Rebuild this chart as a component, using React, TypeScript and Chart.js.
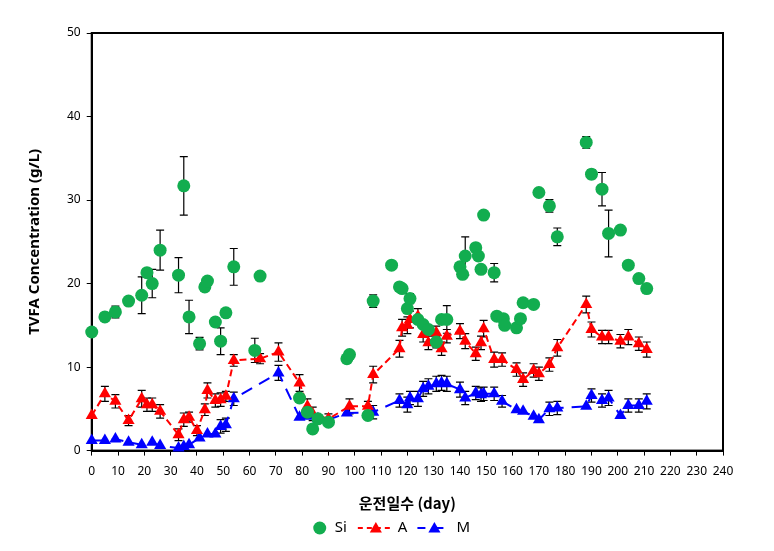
import { useEffect, useRef } from 'react';
import { Chart, registerables } from 'chart.js';

Chart.register(...registerables);

const FONT = '"Noto Sans", "Noto Sans CJK KR", sans-serif';
const KFONT = '"Noto Sans CJK KR", "Noto Sans", sans-serif';
const GREEN = '#12ad4f';
const RED = '#ff0000';
const BLUE = '#0000ff';

// Y / X axis ticks
const xTickMin = 0;
const xTickMax = 240;
const xTickStep = 10;
const yTickMin = 0;
const yTickMax = 50;
const yTickStep = 10;

// Series Si (circles, no line)
const siDays = [0, 5, 9, 14, 19, 21, 23, 26, 33, 35, 37, 41, 43, 44, 47, 49, 51, 54, 62, 64, 79, 82, 84, 86, 90, 97, 98, 105, 107, 114, 117, 118, 120, 121, 124, 126, 128, 131, 133, 135, 140, 141, 142, 146, 147, 148, 149, 153, 154, 156.5, 157, 161.5, 163, 164, 168, 170, 174, 177, 188, 190, 194, 196.5, 201, 204, 208, 211];
const siValues = [14.2, 16.0, 16.6, 17.9, 18.6, 21.3, 20.0, 24.0, 21.0, 31.7, 16.0, 12.8, 19.6, 20.3, 15.4, 13.1, 16.5, 22.0, 12.0, 20.9, 6.3, 4.6, 2.6, 3.8, 3.4, 11.0, 11.5, 4.2, 17.9, 22.2, 19.6, 19.4, 17.0, 18.2, 15.7, 15.1, 14.5, 13.0, 15.7, 15.7, 22.0, 21.1, 23.3, 24.3, 23.3, 21.7, 28.2, 21.3, 16.1, 15.8, 15.0, 14.7, 15.8, 17.7, 17.5, 30.9, 29.3, 25.6, 36.9, 33.1, 31.3, 26.0, 26.4, 22.2, 20.6, 19.4];
const siErr = [0, 0, 0.7, 0, 2.2, 0, 1.7, 2.4, 2.1, 3.5, 2.0, 0.75, 0.5, 0, 0.5, 1.6, 0, 2.2, 1.45, 0, 0, 0, 0, 0, 0, 0, 0, 0, 0.75, 0, 0, 0, 0, 0.6, 0, 0, 0, 0.7, 0, 1.65, 0, 0, 2.3, 0, 0, 0, 0, 1.1, 0, 0, 0, 0, 0, 0, 0, 0.3, 0.75, 1.05, 0.7, 0.55, 2.0, 2.8, 0, 0, 0, 0];

// Series A (red triangles, short dashes)
const aDays = [0, 5, 9, 14, 19, 21, 23, 26, 33, 35, 37, 40, 43, 44, 47, 49, 51, 54, 64, 71, 79, 82, 84, 90, 98, 105, 107, 117, 118, 120, 121, 124, 126, 128, 131, 133, 135, 140, 142, 146, 148, 149, 153, 156, 161.5, 164, 168, 170, 174, 177, 188, 190, 194, 196.5, 201, 204, 208, 211];
const aValues = [4.2, 6.8, 5.9, 3.6, 6.2, 5.5, 5.5, 4.7, 1.9, 3.7, 4.0, 2.4, 4.9, 7.2, 6.0, 6.1, 6.5, 10.8, 11.0, 11.8, 8.1, 5.3, 4.4, 3.8, 5.3, 5.3, 9.1, 12.2, 14.7, 15.0, 15.7, 16.1, 13.9, 12.9, 14.1, 12.2, 13.7, 14.3, 13.1, 11.6, 12.9, 14.6, 10.9, 10.9, 9.7, 8.5, 9.6, 9.2, 10.3, 12.3, 17.5, 14.5, 13.6, 13.6, 13.1, 13.6, 12.8, 12.1];
const aErr = [0, 0.9, 0.8, 0.6, 1.0, 0.8, 0.8, 0.8, 0.7, 0.8, 0.6, 0.6, 0.7, 0.9, 0.8, 0.8, 0.6, 0.7, 0.6, 1.1, 1.0, 0.9, 0.8, 0.6, 0.9, 0.6, 1.0, 1.0, 1.0, 1.0, 1.0, 0.9, 0.9, 0.8, 0.8, 0.8, 0.8, 0.9, 0.9, 0.8, 0.8, 1.0, 0.9, 0.8, 0.8, 0.8, 0.8, 0.8, 0.8, 1.0, 1.0, 0.9, 0.8, 0.8, 0.8, 0.9, 0.8, 0.9];

// Series M (blue triangles, long dashes)
const mDays = [0, 5, 9, 14, 19, 23, 26, 33, 35, 37, 41, 44, 47, 49, 51, 54, 71, 79, 82, 86, 90, 97, 107, 117, 120, 121, 124, 126, 128, 131, 133, 135, 140, 142, 146, 148, 149, 153, 156, 161.5, 164, 168, 170, 174, 177, 188, 190, 194, 196.5, 201, 204, 208, 211];
const mValues = [1.2, 1.2, 1.4, 1.0, 0.7, 1.0, 0.6, 0.3, 0.5, 0.7, 1.5, 2.0, 2.0, 2.9, 3.1, 6.2, 9.3, 4.0, 4.1, 3.8, 3.7, 4.5, 4.6, 6.0, 5.5, 6.3, 6.2, 7.4, 7.7, 8.0, 8.1, 8.0, 7.3, 6.3, 6.9, 6.7, 6.8, 6.8, 5.9, 4.9, 4.7, 4.1, 3.7, 5.0, 5.1, 5.3, 6.6, 6.0, 6.3, 4.2, 5.4, 5.4, 5.9];
const mErr = [0, 0, 0, 0, 0, 0, 0, 0, 0, 0, 0, 0, 0, 0.8, 0.8, 0.8, 0.9, 0, 0, 0, 0, 0, 0.8, 0.8, 0.9, 0.8, 0.9, 0.9, 0.9, 0.9, 0.9, 0.9, 0.9, 0.8, 0.8, 0.8, 0.8, 0.8, 0.7, 0, 0, 0, 0, 0.8, 0.8, 0, 0.8, 0.8, 0.9, 0, 0.8, 0.8, 0.9];

const seriesLabels = ['Si', 'A', 'M'];
const yTitle = 'TVFA Concentration (g/L)';
const xTitle = '운전일수 (day)';

const ERRORS = [siErr, aErr, mErr];

const toPoints = (xs: number[], ys: number[]) => xs.map((x, i) => ({ x, y: ys[i] }));

function drawTri(ctx: CanvasRenderingContext2D, x: number, y: number, r: number) {
  ctx.beginPath();
  ctx.moveTo(x, y - r);
  ctx.lineTo(x + r * 0.866, y + r * 0.5);
  ctx.lineTo(x - r * 0.866, y + r * 0.5);
  ctx.closePath();
  ctx.fill();
}

const framePlugin = {
  id: 'frame',
  beforeDatasetsDraw(chart: any) {
    const { ctx, chartArea: a } = chart;
    ctx.save();
    ctx.strokeStyle = '#000';
    ctx.lineWidth = 2;
    ctx.strokeRect(a.left, a.top, a.right - a.left, a.bottom - a.top);
    ctx.restore();
  },
};

const errorBarPlugin = {
  id: 'errorBars',
  beforeDatasetsDraw(chart: any) {
    const { ctx } = chart;
    const ys = chart.scales.y;
    ctx.save();
    ctx.strokeStyle = '#000';
    ctx.lineWidth = 1.2;
    chart.data.datasets.forEach((ds: any, di: number) => {
      const errs = ERRORS[di];
      const meta = chart.getDatasetMeta(di);
      meta.data.forEach((pt: any, i: number) => {
        const e = errs[i];
        if (!e) return;
        const v = ds.data[i].y;
        const x = pt.x;
        const t = ys.getPixelForValue(v + e);
        const b = ys.getPixelForValue(v - e);
        ctx.beginPath();
        ctx.moveTo(x, t);
        ctx.lineTo(x, b);
        ctx.moveTo(x - 4, t);
        ctx.lineTo(x + 4, t);
        ctx.moveTo(x - 4, b);
        ctx.lineTo(x + 4, b);
        ctx.stroke();
      });
    });
    ctx.restore();
  },
};

const legendPlugin = {
  id: 'customLegend',
  afterDraw(chart: any) {
    const { ctx, chartArea: a } = chart;
    const yc = chart.height - 23;
    let x = a.left + 222;
    ctx.save();
    ctx.font = `15px ${FONT}`;
    ctx.textBaseline = 'middle';
    // Si
    ctx.fillStyle = GREEN;
    ctx.beginPath();
    ctx.arc(x + 6, yc, 6.5, 0, Math.PI * 2);
    ctx.fill();
    x += 21;
    ctx.fillStyle = '#000';
    ctx.fillText(seriesLabels[0], x, yc);
    x += ctx.measureText(seriesLabels[0]).width + 11;
    // A
    ctx.strokeStyle = RED;
    ctx.lineWidth = 2;
    ctx.setLineDash([5, 4]);
    ctx.beginPath();
    ctx.moveTo(x, yc);
    ctx.lineTo(x + 35, yc);
    ctx.stroke();
    ctx.fillStyle = RED;
    drawTri(ctx, x + 18, yc + 1, 7);
    x += 40;
    ctx.fillStyle = '#000';
    ctx.fillText(seriesLabels[1], x, yc);
    x += ctx.measureText(seriesLabels[1]).width + 10;
    // M
    ctx.strokeStyle = BLUE;
    ctx.setLineDash([8, 10]);
    ctx.beginPath();
    ctx.moveTo(x, yc);
    ctx.lineTo(x + 34, yc);
    ctx.stroke();
    ctx.fillStyle = BLUE;
    drawTri(ctx, x + 17, yc + 1, 7);
    x += 39;
    ctx.fillStyle = '#000';
    ctx.fillText(seriesLabels[2], x, yc);
    ctx.restore();
  },
};

export default function App() {
  const ref = useRef<HTMLCanvasElement>(null);
  useEffect(() => {
    document.body.style.margin = '0';
    if (!ref.current) return;
    const chart = new Chart(ref.current, {
      type: 'scatter',
      data: {
        datasets: [
          {
            label: seriesLabels[0],
            data: toPoints(siDays, siValues),
            showLine: false,
            pointStyle: 'circle',
            pointRadius: 6.5,
            pointBorderWidth: 0,
            backgroundColor: GREEN,
            borderColor: GREEN,
            clip: false,
          },
          {
            label: seriesLabels[1],
            data: toPoints(aDays, aValues),
            showLine: true,
            borderColor: RED,
            backgroundColor: RED,
            borderWidth: 2,
            borderDash: [7, 4],
            pointStyle: 'triangle',
            pointRadius: 7,
            pointBorderWidth: 0,
            clip: false,
          },
          {
            label: seriesLabels[2],
            data: toPoints(mDays, mValues),
            showLine: true,
            borderColor: BLUE,
            backgroundColor: BLUE,
            borderWidth: 2,
            borderDash: [12, 8],
            pointStyle: 'triangle',
            pointRadius: 7,
            pointBorderWidth: 0,
            clip: false,
          },
        ],
      } as any,
      options: {
        responsive: false,
        animation: false,
        events: [],
        layout: { padding: { left: 20, right: 51, top: 33, bottom: 39 } },
        plugins: { legend: { display: false }, tooltip: { enabled: false } },
        scales: {
          x: {
            type: 'linear',
            min: xTickMin,
            max: xTickMax,
            ticks: { stepSize: xTickStep, color: '#000', font: { family: FONT, size: 12 }, padding: 9, maxRotation: 0, autoSkip: false },
            grid: { drawOnChartArea: false, tickLength: 5, color: '#000', lineWidth: 1 },
            border: { color: '#000', width: 2 },
            title: { display: true, text: xTitle, color: '#000', font: { family: KFONT, size: 15, weight: 'bold' }, padding: { top: 6, bottom: 0 } },
          },
          y: {
            type: 'linear',
            min: yTickMin,
            max: yTickMax,
            ticks: { stepSize: yTickStep, color: '#000', font: { family: FONT, size: 12 }, padding: 6 },
            grid: { drawOnChartArea: false, tickLength: 5, color: '#000', lineWidth: 1 },
            border: { color: '#000', width: 2 },
            title: { display: true, text: yTitle, color: '#000', font: { family: FONT, size: 15, weight: 'bold' }, padding: { top: 6, bottom: 17 } },
          },
        },
      } as any,
      plugins: [framePlugin, errorBarPlugin, legendPlugin],
    });
    return () => chart.destroy();
  }, []);
  return <canvas ref={ref} width={774} height={551} style={{ display: 'block' }} />;
}
